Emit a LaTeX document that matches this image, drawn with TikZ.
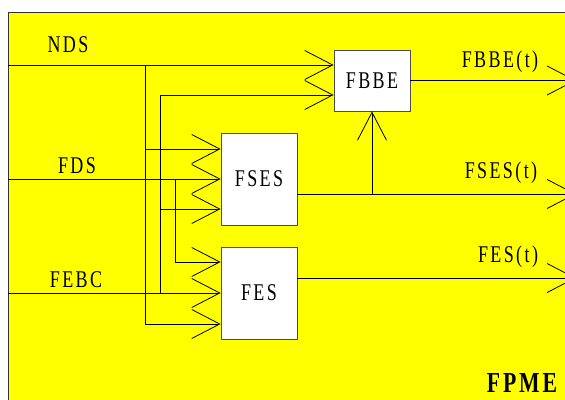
\documentclass[tikz,border=0pt]{standalone}
\usepackage{fontspec}
\setmainfont{Liberation Serif}[FakeStretch=0.75,LetterSpace=10]
\usetikzlibrary{arrows.meta,calc}
\definecolor{bgyellow}{RGB}{255,255,0}
\tikzset{
  blk/.style={draw=black!70, fill=white, line width=0.8pt, minimum width=76pt, inner sep=0pt, font=\fontsize{24}{26}\selectfont},
  lbl/.style={inner sep=0pt, font=\fontsize{24}{26}\selectfont},
  wire/.style={draw=black, line width=0.8pt},
  arr/.style={wire, -{Straight Barb[length=28pt,width=29pt,line width=0.8pt]}},
}
\begin{document}
\begin{tikzpicture}[x=1pt,y=-1pt]
\useasboundingbox (0,0) rectangle (565,399);
\clip (0,0) rectangle (565,399);
\draw[fill=bgyellow, draw=black!80, line width=0.8pt] (8,12) rectangle (600,430);

\node[blk, minimum height=61pt] (fbbe) at (372,80.5) {FBBE};
\node[blk, minimum height=92pt] (fses) at (259,179) {FSES};
\node[blk, minimum height=92pt] (fes) at (259,293) {FES};

\coordinate (nds) at (8,65);
\coordinate (fds) at (8,179);
\coordinate (febc) at (8,293);
\coordinate (j1) at (145,65);
\coordinate (j2) at (160,293);
\coordinate (j3) at (175,179);
\coordinate (j4) at (372,194);
\coordinate (o1) at (576,80.5);
\coordinate (o2) at (576,194);
\coordinate (o3) at (576,278);

% NDS
\draw[arr] (nds) -- (nds -| fbbe.west);
\draw[arr] (j1) |- ($(fes.west)+(0,31)$);
\draw[arr] (j1 |- 0,149) -- ($(fses.west)+(0,-30)$);
% FDS
\draw[arr] (fds) -- (fses.west);
\draw[arr] (j3) |- ($(fes.west)+(0,-31)$);
% FEBC
\draw[arr] (febc) -- (fes.west);
\draw[arr] (j2) |- ($(fbbe.west)+(0,14.5)$);
\draw[arr] (j2 |- 0,209) -- ($(fses.west)+(0,30)$);
% outputs
\draw[arr] (fbbe.east) -- (o1);
\draw[arr] ($(fses.east)+(0,15)$) -- (o2);
\draw[arr] (j4) -- (fbbe.south);
\draw[arr] ($(fes.east)+(0,-15)$) -- (o3);

\node[lbl] (lnds) at (68,45) {NDS};
\node[lbl] (lfds) at (77,166) {FDS};
\node[lbl] (lfebc) at (76,280) {FEBC};
\node[lbl] (lfbbe) at (500,62) {FBBE(t)};
\node[lbl] (lfses) at (501,173) {FSES(t)};
\node[lbl] (lfes) at (508,257) {FES(t)};
\node[lbl, font=\fontsize{29}{31}\selectfont\bfseries] (lfpme) at (522,383) {FPME};
\end{tikzpicture}
\end{document}
